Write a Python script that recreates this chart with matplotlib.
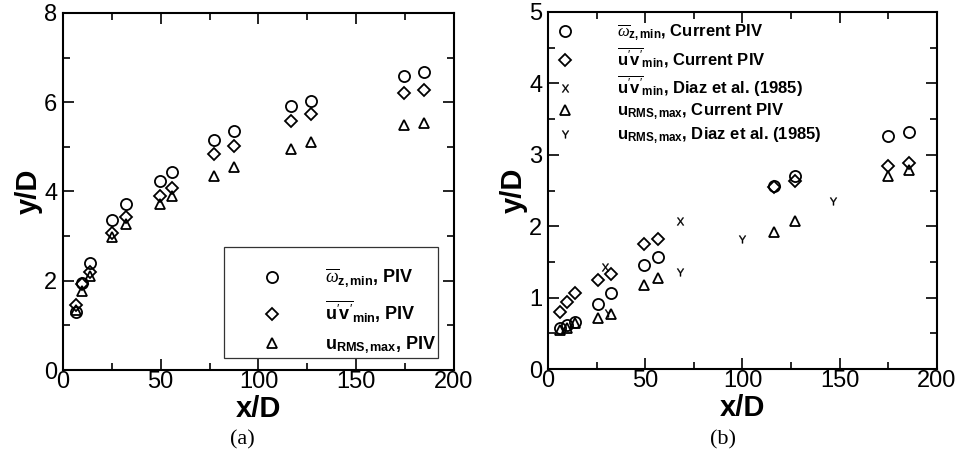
import matplotlib
matplotlib.use("Agg")
import matplotlib.pyplot as plt
from matplotlib.patches import Rectangle
from matplotlib.ticker import MultipleLocator

plt.rcParams["font.family"] = ["Liberation Sans", "DejaVu Sans"]
plt.rcParams["mathtext.fontset"] = "custom"
plt.rcParams["mathtext.rm"] = "Liberation Sans"
plt.rcParams["mathtext.it"] = "Liberation Serif:italic"
plt.rcParams["mathtext.bf"] = "Liberation Sans:bold"

# ---- panel (a): present PIV ----
xa = [6.8, 9.6, 14.0, 25.2, 32.4, 49.4, 56.0, 77.3, 87.7, 116.5, 127.0, 174.4, 184.8]
a_omega = [1.29, 1.94, 2.39, 3.36, 3.72, 4.24, 4.44, 5.15, 5.36, 5.91, 6.02, 6.59, 6.68]
a_uv = [1.45, 1.93, 2.20, 3.08, 3.42, 3.89, 4.07, 4.83, 5.01, 5.59, 5.74, 6.20, 6.27]
a_urms = [1.34, 1.77, 2.11, 2.99, 3.27, 3.71, 3.89, 4.34, 4.56, 4.95, 5.10, 5.48, 5.53]

# ---- panel (b): present PIV and Diaz et al. (1985) ----
xb = [6.3, 9.8, 14.0, 25.5, 32.6, 49.2, 56.6, 116.4, 127.2, 174.6, 185.4]
b_omega = [0.57, 0.62, 0.66, 0.91, 1.06, 1.46, 1.57, 2.56, 2.71, 3.26, 3.32]
b_uv = [0.80, 0.94, 1.06, 1.25, 1.33, 1.75, 1.82, 2.55, 2.64, 2.85, 2.88]
b_urms = [0.55, 0.58, 0.64, 0.72, 0.77, 1.17, 1.28, 1.92, 2.07, 2.71, 2.79]
diaz_uv_x = [29.5, 67.7]
diaz_uv = [1.43, 2.07]
diaz_urms_x = [31.0, 67.7, 100.0, 146.5]
diaz_urms = [0.78, 1.36, 1.82, 2.35]

lab_omega = r"$\overline{\omega}_{\mathbf{z,min}}$"
lab_uv = r"$\overline{\mathbf{u}^{\prime}\mathbf{v}^{\prime}}_{\mathbf{min}}$"
lab_urms = r"$\mathbf{u}_{\mathbf{RMS,max}}$"

fig = plt.figure(figsize=(9.63, 4.51), dpi=100)
axa = fig.add_axes([0.0654, 0.1796, 0.406, 0.7916])
axb = fig.add_axes([0.569, 0.1818, 0.404, 0.7916])

mk = dict(linestyle="none", markerfacecolor="none", markeredgecolor="black",
          markeredgewidth=1.3, color="black")


def style(ax, ymax, ymaj):
    ax.set_xlim(0, 200)
    ax.set_ylim(0, ymax)
    ax.xaxis.set_major_locator(MultipleLocator(50))
    ax.xaxis.set_minor_locator(MultipleLocator(25))
    ax.yaxis.set_major_locator(MultipleLocator(ymaj))
    ax.yaxis.set_minor_locator(MultipleLocator(ymaj / 2))
    ax.tick_params(which="both", direction="in", top=True, right=True,
                   labelsize=17, width=1.2)
    ax.tick_params(which="major", length=8)
    ax.tick_params(which="minor", length=5)
    ax.tick_params(axis="x", pad=1)
    ax.tick_params(axis="y", pad=4)
    for s in ax.spines.values():
        s.set_linewidth(1.5)
    ax.set_xlabel("x/D", fontsize=21, fontweight="bold", labelpad=1)
    ax.set_ylabel("y/D", fontsize=21, fontweight="bold", labelpad=1)


# panel (a)
axa.plot(xa, a_omega, marker="o", markersize=8, label=lab_omega + ", PIV", **mk)
axa.plot(xa, a_uv, marker="D", markersize=6.5, label=lab_uv + ", PIV", **mk)
axa.plot(xa, a_urms, marker="^", markersize=7.5, label=lab_urms + ", PIV", **mk)
style(axa, 8, 2)
# boxed key in the lower right corner
axa.add_patch(Rectangle((0.412, 0.034), 0.547, 0.311, transform=axa.transAxes,
                        facecolor="white", edgecolor="#333333", linewidth=0.9,
                        zorder=4))
leg = axa.legend(loc="upper left", bbox_to_anchor=(0.512, 0.29),
                 prop={"weight": "bold", "size": 13}, frameon=False,
                 handlelength=1.0, handletextpad=2.4, labelspacing=0.5,
                 borderpad=0, borderaxespad=0)
leg.set_zorder(5)
fig.text(0.252, 0.015, "(a)", family="Liberation Serif", fontsize=16, ha="center")

# panel (b)
axb.plot(xb, b_omega, marker="o", markersize=8, label=lab_omega + ", Current PIV", **mk)
axb.plot(xb, b_uv, marker="D", markersize=6.5, label=lab_uv + ", Current PIV", **mk)
axb.plot(diaz_uv_x, diaz_uv, marker=r"$\mathregular{X}$", markersize=5.5,
         linestyle="none", color="black", markeredgewidth=0.3,
         label=lab_uv + ", Diaz et al. (1985)")
axb.plot(xb, b_urms, marker="^", markersize=7.5, label=lab_urms + ", Current PIV", **mk)
axb.plot(diaz_urms_x, diaz_urms, marker=r"$\mathregular{Y}$", markersize=5.5,
         linestyle="none", color="black", markeredgewidth=0.3,
         label=lab_urms + ", Diaz et al. (1985)")
style(axb, 5, 1)
axb.legend(loc="upper left", bbox_to_anchor=(0.01, 0.985),
           prop={"weight": "bold", "size": 12}, frameon=False,
           handlelength=1.0, handletextpad=2.6, labelspacing=0.2,
           borderpad=0.3, borderaxespad=0)
fig.text(0.751, 0.015, "(b)", family="Liberation Serif", fontsize=16, ha="center")

fig.savefig("out.png", dpi=100)
